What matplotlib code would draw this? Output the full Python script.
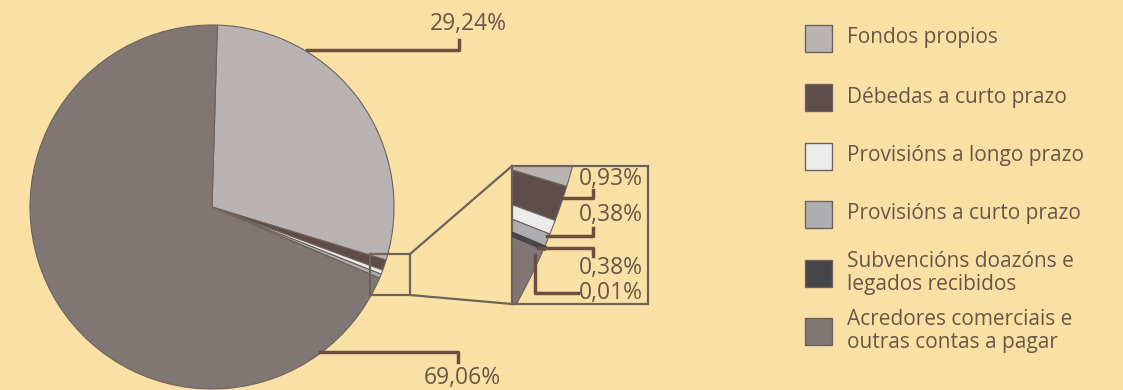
import matplotlib.pyplot as plt
from matplotlib.patches import Rectangle

# balance composition (%)
categories = [
    'Fondos propios',
    'Débedas a curto prazo',
    'Provisións a longo prazo',
    'Provisións a curto prazo',
    'Subvencións doazóns e\nlegados recibidos',
    'Acredores comerciais e\noutras contas a pagar',
]
values = [29.24, 0.93, 0.38, 0.38, 0.01, 69.06]
value_labels = ['29,24%', '0,93%', '0,38%', '0,38%', '0,01%', '69,06%']
colors = ['#b8b3b2', '#5e4d4a', '#ececec', '#aeadb1', '#45454a', '#807674']

bg = '#f9e1a5'
txt = '#6b5646'
lead = '#6b5040'
edge = '#6e625c'
W, H = 1123, 390

plt.rcParams['font.family'] = ['Open Sans', 'DejaVu Sans']

fig = plt.figure(figsize=(W / 100, H / 100), dpi=100, facecolor=bg)

cx, cy, r = 212, H - 207, 182
start = 88.3
zx0, zx1, zy0, zy1 = 370, 410, H - 295, H - 254
ix0, ix1, iy0, iy1 = 512, 648, H - 304, H - 166

# magnified view of the thin slices (drawn underneath the main layer)
axi = fig.add_axes([ix0 / W, iy0 / H, (ix1 - ix0) / W, (iy1 - iy0) / H])
axi.set_facecolor(bg)
wedges, _ = axi.pie(values, colors=colors, startangle=start, counterclock=False,
                    center=(cx, cy), radius=r,
                    wedgeprops=dict(edgecolor=edge, linewidth=0.8))
for w in wedges:
    w.set_clip_on(True)
wedges[4].set_linewidth(3.5)
wedges[4].set_edgecolor(colors[4])
wedges[4].set_zorder(10)
axi.set_xlim(zx0, zx1)
axi.set_ylim(zy0, zy1)
axi.set_aspect('auto')
axi.set_frame_on(True)
for s in axi.spines.values():
    s.set_edgecolor(edge)
    s.set_linewidth(1.6)
axi.set_zorder(1)

ax = fig.add_axes([0, 0, 1, 1])
ax.set_facecolor('none')
ax.set_zorder(2)

ax.pie(values, colors=colors, startangle=start, counterclock=False,
       center=(cx, cy), radius=r,
       wedgeprops=dict(edgecolor=edge, linewidth=0.8))
ax.set_xlim(0, W)
ax.set_ylim(0, H)
ax.set_aspect('equal')
ax.axis('off')

# zoom box and connectors
ax.add_patch(Rectangle((zx0, zy0), zx1 - zx0, zy1 - zy0, fill=False,
                       edgecolor=edge, linewidth=1.6, zorder=5))
ax.plot([zx1, ix0], [zy1, iy1], color=edge, lw=1.6)
ax.plot([zx1, ix0], [zy0, iy0], color=edge, lw=1.6)

pfs = 16.5

# big labels
ax.plot([307, 459, 459], [H - 50, H - 50, H - 40], color=lead, lw=2.5, zorder=6)
ax.text(468, H - 24, value_labels[0], color=txt, fontsize=pfs, ha='center', va='center')
ax.plot([320, 458, 458], [H - 352, H - 352, H - 362], color=lead, lw=2.5, zorder=6)
ax.text(462, H - 378, value_labels[5], color=txt, fontsize=pfs, ha='center', va='center')

# inset labels
ax.plot([560, 593, 593], [H - 198, H - 198, H - 190], color=lead, lw=2.5, zorder=6)
ax.text(611, H - 179, value_labels[1], color=txt, fontsize=pfs, ha='center', va='center')
ax.plot([547, 593, 593], [H - 236, H - 236, H - 228], color=lead, lw=2.5, zorder=6)
ax.text(611, H - 215, value_labels[2], color=txt, fontsize=pfs, ha='center', va='center')
ax.plot([538, 593, 593], [H - 248, H - 248, H - 256], color=lead, lw=2.5, zorder=6)
ax.text(611, H - 268, value_labels[3], color=txt, fontsize=pfs, ha='center', va='center')
ax.plot([535, 535, 578], [H - 255, H - 293, H - 293], color=lead, lw=2.5, zorder=6)
ax.text(611, H - 293, value_labels[4], color=txt, fontsize=pfs, ha='center', va='center')

# legend
ly = [38, 97, 156, 214, 273, 331]
for c, lab, y in zip(colors, categories, ly):
    ax.add_patch(Rectangle((805, H - y - 13.5), 27, 27, facecolor=c,
                           edgecolor=edge, linewidth=1.0))
    ax.text(847, H - y, lab, color=txt, fontsize=15, ha='left', va='center',
            linespacing=1.15)

fig.savefig('out.png', dpi=100, facecolor=bg)
